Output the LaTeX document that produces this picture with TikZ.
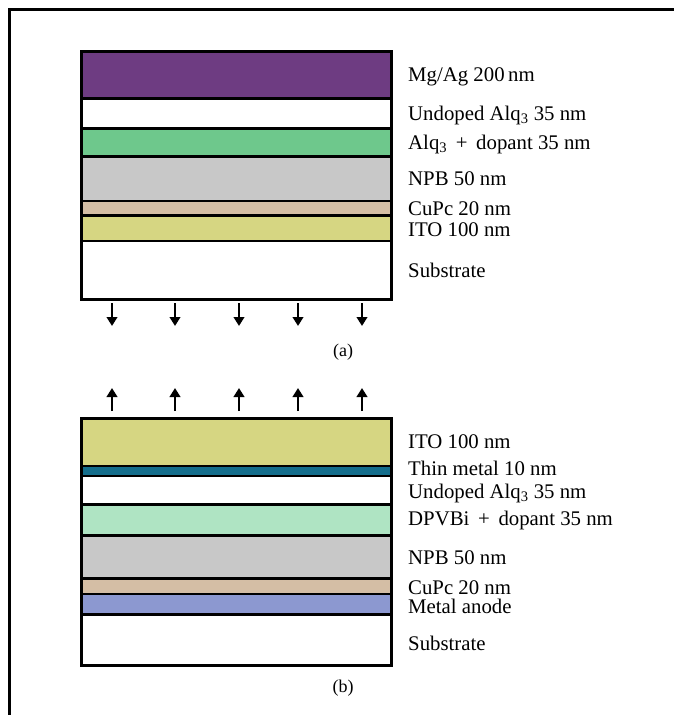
\documentclass[tikz,border=0pt]{standalone}
\usepackage{fontspec}
\setmainfont{Liberation Serif}
\usetikzlibrary{arrows.meta}

\definecolor{mgag}{RGB}{110,60,130}
\definecolor{alqdop}{RGB}{110,200,140}
\definecolor{npb}{RGB}{200,200,200}
\definecolor{cupc}{RGB}{212,190,165}
\definecolor{ito}{RGB}{214,214,130}
\definecolor{thinmetal}{RGB}{20,110,140}
\definecolor{dpvbi}{RGB}{175,228,195}
\definecolor{anode}{RGB}{140,152,208}

\begin{document}
\begin{tikzpicture}[x=1pt,y=-1pt,>={Triangle[width=10.5pt,length=9pt]},
  layer/.style={draw=black,line width=2.5pt},
  stackbox/.style={draw=black,line width=3pt},
  lbl/.style={anchor=base west,inner sep=0pt,font=\fontsize{20.8}{25}\selectfont},
  figtag/.style={inner sep=0pt,font=\fontsize{18}{22}\selectfont},
  ray/.style={->,line width=2.7pt}]
\useasboundingbox (0,0) rectangle (674,715);
\begin{scope}
\clip (0,0) rectangle (674,715);
\draw[line width=3pt] (9,9.5) rectangle (720,760);
\end{scope}

% (a) bottom emitting
\foreach \ya/\yb/\col in {51.5/98.5/mgag,98.5/128.5/white,128.5/156.5/alqdop,156.5/201/npb,
  201/215.5/cupc,215.5/241/ito,241/299/white}
  \filldraw[layer,fill=\col] (81.5,\ya) rectangle (391,\yb);
\draw[stackbox] (81.5,51.5) rectangle (391,299);
\node[lbl] (mgag) at (408,81) {Mg/Ag 200\,nm};
\node[lbl] (alqa) at (408,120) {Undoped Alq$_{\mathrm{3}}$ 35 nm};
\node[lbl] (dopa) at (408,149) {Alq$_{\mathrm{3}}$ \,+\, dopant 35 nm};
\node[lbl] (npba) at (408,185) {NPB 50 nm};
\node[lbl] (cupca) at (408,215) {CuPc 20 nm};
\node[lbl] (itoa) at (408,236) {ITO 100 nm};
\node[lbl] (suba) at (408,277) {Substrate};
\foreach \x in {112,175,239,298,362}
  \draw[ray] (\x,303) -- (\x,326);
\node[figtag] (taga) at (343,352) {(a)};

% (b) top emitting
\foreach \x in {112,175,239,298,362}
  \draw[ray] (\x,411) -- (\x,388);
\foreach \ya/\yb/\col in {418/466/ito,466/476/thinmetal,476/504.5/white,504.5/535.5/dpvbi,
  535.5/578.5/npb,578.5/594/cupc,594/614.5/anode,614.5/665/white}
  \filldraw[layer,fill=\col] (81.5,\ya) rectangle (391,\yb);
\draw[stackbox] (81.5,418) rectangle (391,665);
\node[lbl] (itob) at (408,448) {ITO 100 nm};
\node[lbl] (thinb) at (408,475) {Thin metal 10 nm};
\node[lbl] (alqb) at (408,498) {Undoped Alq$_{\mathrm{3}}$ 35 nm};
\node[lbl] (dopb) at (408,525) {DPVBi \,+\, dopant 35 nm};
\node[lbl] (npbb) at (408,564) {NPB 50 nm};
\node[lbl] (cupcb) at (408,594) {CuPc 20 nm};
\node[lbl] (anodeb) at (408,613) {Metal anode};
\node[lbl] (subb) at (408,650) {Substrate};
\node[figtag] (tagb) at (343,688) {(b)};
\end{tikzpicture}
\end{document}
